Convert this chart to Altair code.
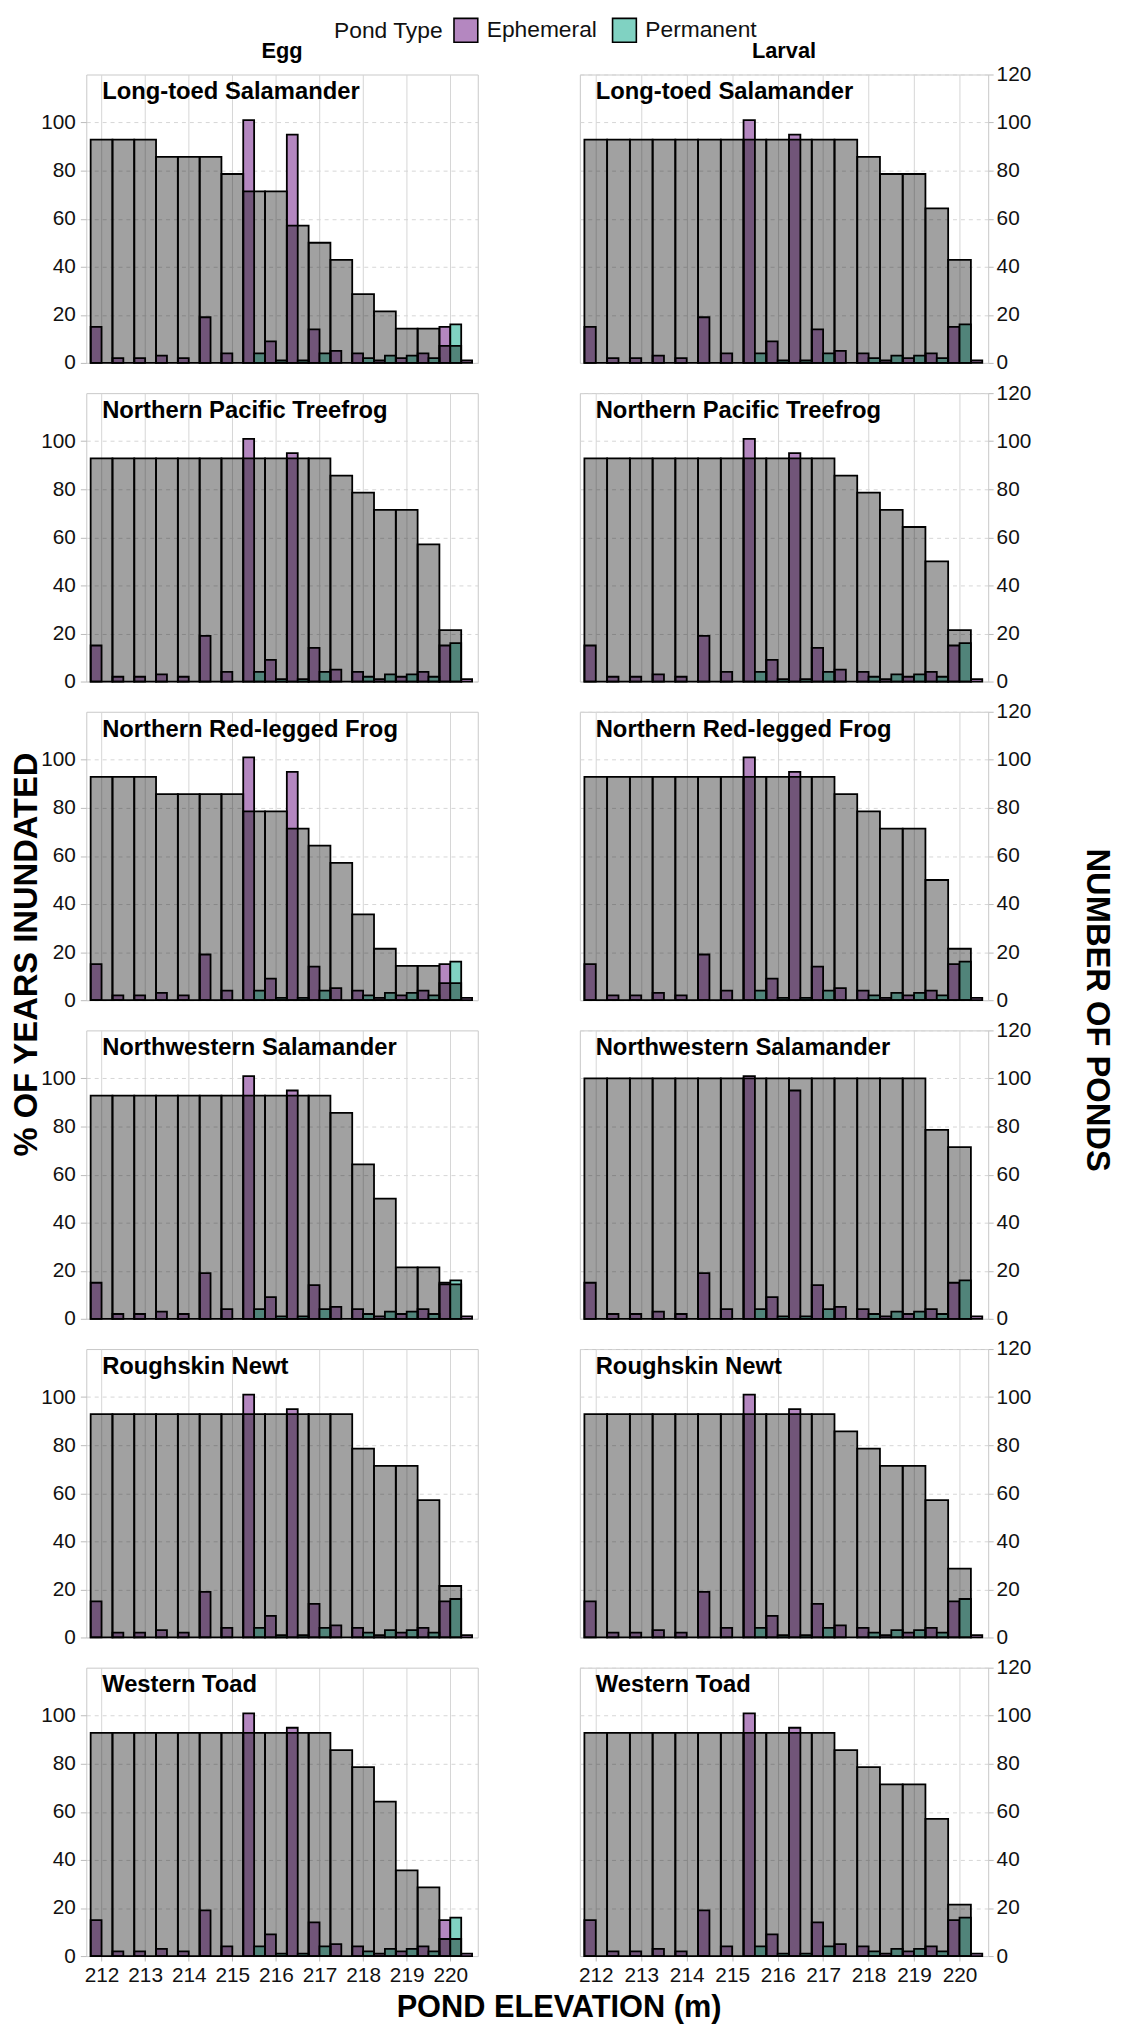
import altair as alt
import pandas as pd

FONT = "Liberation Sans"

SPECIES = [
    "Long-toed Salamander",
    "Northern Pacific Treefrog",
    "Northern Red-legged Frog",
    "Northwestern Salamander",
    "Roughskin Newt",
    "Western Toad",
]
STAGES = ["Egg", "Larval"]

# centres of the 0.5 m elevation bins (grey bars, % of years inundated)
ELEV = [212.0, 212.5, 213.0, 213.5, 214.0, 214.5, 215.0, 215.5, 216.0,
        216.5, 217.0, 217.5, 218.0, 218.5, 219.0, 219.5, 220.0]

EGG_LONG_TOED = [92.9, 92.9, 92.9, 85.7, 85.7, 85.7, 78.6, 71.4, 71.4, 57.1, 50.0, 42.9, 28.6, 21.4, 14.3, 14.3, 7.1]
EGG_TREEFROG = [92.9] * 11 + [85.7, 78.6, 71.4, 71.4, 57.1, 21.4]
EGG_REDLEG = [92.9] * 3 + [85.7] * 4 + [78.6, 78.6, 71.4, 64.3, 57.1, 35.7, 21.4, 14.3, 14.3, 7.1]
EGG_NW_SAL = [92.9] * 11 + [85.7, 64.3, 50.0, 21.4, 21.4, 14.3]
EGG_NEWT = [92.9] * 12 + [78.6, 71.4, 71.4, 57.1, 21.4]
EGG_TOAD = [92.9] * 11 + [85.7, 78.6, 64.3, 35.7, 28.6, 7.1]

LAR_LONG_TOED = [92.9] * 12 + [85.7, 78.6, 78.6, 64.3, 42.9]
LAR_TREEFROG = [92.9] * 11 + [85.7, 78.6, 71.4, 64.3, 50.0, 21.4]
LAR_REDLEG = [92.9] * 11 + [85.7, 78.6, 71.4, 71.4, 50.0, 21.4]
LAR_NW_SAL = [100.0] * 15 + [78.6, 71.4]
LAR_NEWT = [92.9] * 11 + [85.7, 78.6, 71.4, 71.4, 57.1, 28.6]
LAR_TOAD = [92.9] * 11 + [85.7, 78.6, 71.4, 71.4, 57.1, 21.4]

PCT = {
    "Egg": [EGG_LONG_TOED, EGG_TREEFROG, EGG_REDLEG, EGG_NW_SAL, EGG_NEWT, EGG_TOAD],
    "Larval": [LAR_LONG_TOED, LAR_TREEFROG, LAR_REDLEG, LAR_NW_SAL, LAR_NEWT, LAR_TOAD],
}

# number of ponds per 0.5 m bin, dodged by pond type
POND_ELEV = [212.0, 212.5, 213.0, 213.5, 214.0, 214.5, 215.0, 215.5, 216.0,
             216.5, 217.0, 217.5, 218.0, 218.5, 219.0, 219.5, 220.0, 220.5]
EPHEMERAL = [15, 2, 2, 3, 2, 19, 4, 101, 9, 95, 14, 5, 4, 1, 2, 4, 15, 1]
PERMANENT = [0, 0, 0, 0, 0, 0, 0, 4, 1, 1, 4, 0, 2, 3, 3, 2, 16, 0]

POND_TYPES = ["Ephemeral", "Permanent"]
POND_COLORS = ["#b487c0", "#80d2c2"]

X_TICKS = [212, 213, 214, 215, 216, 217, 218, 219, 220]
Y_LEFT = [0, 20, 40, 60, 80, 100]
Y_RIGHT = [0, 20, 40, 60, 80, 100, 120]

Y_TITLE_LEFT = "% OF YEARS INUNDATED"
Y_TITLE_RIGHT = "NUMBER OF PONDS"
X_TITLE = "POND ELEVATION (m)"

# ---- tables ----
rows = []
for e, n in zip(POND_ELEV, EPHEMERAL):
    if n > 0:
        rows.append({"type": "Ephemeral", "x0": e - 0.25, "x1": e, "count": n})
for e, n in zip(POND_ELEV, PERMANENT):
    if n > 0:
        rows.append({"type": "Permanent", "x0": e, "x1": e + 0.25, "count": n})
pond_df = pd.DataFrame(rows)

W = {"Egg": 395, "Larval": 412}
H = 291
ROW_GAP = 30.5
XDOM = [211.65, 220.63]
STROKE_W = 1.8

legend = alt.Legend(
    title="Pond Type", orient="none", legendX=250, legendY=-58,
    direction="horizontal", titleOrient="left", titleFontSize=23,
    titleFontWeight="normal", titleFont=FONT, titleColor="#111",
    labelFontSize=23, labelFont=FONT, labelColor="#111",
    symbolType="square", symbolSize=576, symbolStrokeColor="black",
    symbolStrokeWidth=1.6, symbolOpacity=1, labelOffset=8, columnPadding=11,
    titlePadding=10,
)


def text_layer(value, **kw):
    return alt.Chart(pd.DataFrame({"t": [value]})).mark_text(
        font=FONT, color="black", fontWeight="bold", **kw
    )


def panel(row, stage):
    sp = SPECIES[row]
    left = stage == "Egg"
    bottom = row == len(SPECIES) - 1
    w = W[stage]
    xs = alt.Scale(domain=XDOM, nice=False, zero=False)
    ys = alt.Scale(domain=[0, 120], nice=False)
    xaxis = alt.Axis(values=X_TICKS, labels=bottom, ticks=bottom, title=None,
                     grid=True, format="d", tickSize=5, labelPadding=4)
    yaxis = alt.Axis(orient="left" if left else "right",
                     values=Y_LEFT if left else Y_RIGHT, title=None, grid=True,
                     tickSize=6 if left else 5, labelPadding=5 if left else 3)

    ponds = alt.Chart(pond_df).mark_bar(stroke="black", strokeWidth=STROKE_W).encode(
        x=alt.X("x0:Q", scale=xs, axis=xaxis),
        x2="x1:Q",
        y=alt.Y("count:Q", scale=ys, axis=yaxis, stack=None),
        y2=alt.datum(0),
        color=alt.Color("type:N", scale=alt.Scale(domain=POND_TYPES, range=POND_COLORS),
                        legend=legend),
    )
    gdf = pd.DataFrame({"elev": ELEV, "pct": PCT[stage][row]})
    grey = alt.Chart(gdf).transform_calculate(
        g0="datum.elev - 0.25", g1="datum.elev + 0.25"
    ).mark_bar(fill="black", fillOpacity=0.37, stroke="black", strokeWidth=STROKE_W).encode(
        x=alt.X("g0:Q", scale=xs, axis=xaxis),
        x2="g1:Q",
        y=alt.Y("pct:Q", scale=ys, axis=yaxis, stack=None),
        y2=alt.datum(0),
    )
    label = text_layer(sp, align="left", baseline="alphabetic", fontSize=24).encode(
        x=alt.value(16), y=alt.value(25), text="t:N")

    layers = [ponds, grey, label]
    if row == 0:
        layers.append(text_layer(stage, align="center", baseline="middle", fontSize=22)
                      .encode(x=alt.value(w / 2), y=alt.value(-24), text="t:N"))
    if row == 0 and left:
        layers.append(text_layer(Y_TITLE_LEFT, angle=270, fontSize=33,
                                 align="center", baseline="middle")
                      .encode(x=alt.value(-60), y=alt.value(888), text="t:N"))
    if row == 0 and not left:
        layers.append(text_layer(Y_TITLE_RIGHT, angle=90, fontSize=33,
                                 align="center", baseline="middle")
                      .encode(x=alt.value(522), y=alt.value(944), text="t:N"))
    if bottom and left:
        layers.append(text_layer(X_TITLE, fontSize=31, align="center", baseline="middle")
                      .encode(x=alt.value(477), y=alt.value(H + 52), text="t:N"))

    return alt.layer(*layers).properties(width=w, height=H)


panels = []
for r in range(len(SPECIES)):
    for st in STAGES:
        panels.append(panel(r, st))

chart = alt.concat(
    *panels, columns=2, spacing={"row": ROW_GAP, "column": 103}, bounds="flush"
).properties(
    padding={"left": 2, "top": 0, "right": 5, "bottom": 0}
).configure(font=FONT).configure_view(
    stroke="#c8c8c8", strokeWidth=1
).configure_axis(
    labelFont=FONT, labelFontSize=21, labelColor="#111", domain=False,
    tickColor="#bbbbbb", gridColor="#d6d6d6", gridWidth=1
).configure_axisY(
    gridDash=[4, 4]
)

chart.save("out.html", embed_options={"renderer": "svg", "actions": False})
